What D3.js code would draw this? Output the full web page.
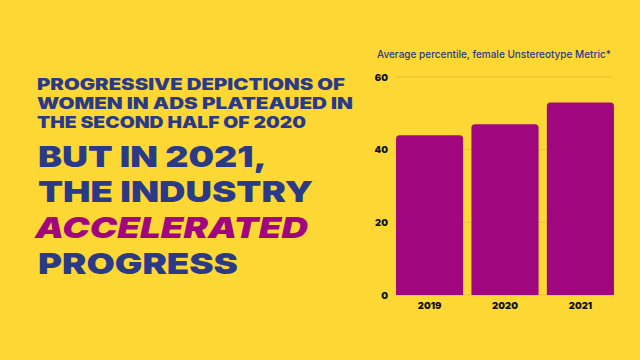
<!DOCTYPE html>
<html>
<head>
<meta charset="utf-8">
<script src="https://cdn.jsdelivr.net/npm/d3@7"></script>
<style>
  body{margin:0;background:#fdd835;}
  svg{display:block;}
</style>
</head>
<body>
<svg id="chart" width="640" height="360"></svg>
<script>
//chart data
var years = ['2019','2020','2021'];
var percentile = [44, 47, 53];
var yTicks = [0, 20, 40, 60];
var axisTitle = 'Average percentile, female Unstereotype Metric*';

//headline text
var smallLines = ['PROGRESSIVE DEPICTIONS OF','WOMEN IN ADS PLATEAUED IN','THE SECOND HALF OF 2020'];
var bigLines = [
    {text:'BUT IN 2021,', accent:false},
    {text:'THE INDUSTRY', accent:false},
    {text:'ACCELERATED', accent:true},
    {text:'PROGRESS', accent:false}
];

var navy = '#2b3a87',
    magenta = '#a0077e',
    bg = '#fdd835',
    grid = '#e9c22f';

var svg = d3.select('#chart');
svg.append('rect').attr('width',640).attr('height',360).style('fill',bg);

//left side headline
var head = svg.append('g').attr('id','headline');
var smallWidths = [308, 316, 269];
head.selectAll('text.small')
    .data(smallLines)
    .enter()
    .append('text')
    .attr('class','small')
    .attr('x',37)
    .attr('y',(d,i)=>90+i*19)
    .attr('textLength',(d,i)=>smallWidths[i])
    .attr('lengthAdjust','spacingAndGlyphs')
    .style('font-family','Inter, "Open Sans", sans-serif')
    .style('font-weight',900)
    .style('font-size','15.5px')
    .style('fill',navy)
    .text(d=>d);

var bigWidths = [229, 275, 273, 200];
head.selectAll('text.big')
    .data(bigLines)
    .enter()
    .append('text')
    .attr('class','big')
    .attr('x',(d)=>d.accent?35:38)
    .attr('y',(d,i)=>166.7+i*35.6)
    .attr('textLength',(d,i)=>bigWidths[i])
    .attr('lengthAdjust','spacingAndGlyphs')
    .style('font-family','Inter, "Open Sans", sans-serif')
    .style('font-weight',900)
    .style('font-style',(d)=>d.accent?'italic':'normal')
    .style('font-size','29px')
    .style('fill',(d)=>d.accent?magenta:navy)
    .text(d=>d.text);

//bar chart
var y = d3.scaleLinear().domain([0,60]).range([295,77]);
var x = d3.scaleBand().domain(years).range([391.5,618.5]).paddingInner(0.11).paddingOuter(0.06);

var chart = svg.append('g').attr('id','bars');

chart.append('text')
    .attr('x',377)
    .attr('y',58.3)
    .attr('textLength',234)
    .attr('lengthAdjust','spacingAndGlyphs')
    .style('font-family','Inter, "Open Sans", sans-serif')
    .style('font-weight',500)
    .style('font-size','10.5px')
    .style('fill',navy)
    .text(axisTitle);

chart.selectAll('line.grid')
    .data(yTicks)
    .enter()
    .append('line')
    .attr('class','grid')
    .attr('x1',395)
    .attr('x2',613)
    .attr('y1',d=>y(d))
    .attr('y2',d=>y(d))
    .style('stroke',grid)
    .style('stroke-width',1);

chart.selectAll('text.tick')
    .data(yTicks)
    .enter()
    .append('text')
    .attr('class','tick')
    .attr('x',388)
    .attr('y',d=>y(d)+3.5)
    .style('text-anchor','end')
    .style('font-family','Inter, "Open Sans", sans-serif')
    .style('font-weight',900)
    .style('font-size','9.5px')
    .style('fill','#111')
    .text(d=>d);

//bar with rounded top corners
var barPath = function(x0,y0,w,h,r){
    return 'M'+x0+','+(y0+h)+
           'V'+(y0+r)+
           'Q'+x0+','+y0+' '+(x0+r)+','+y0+
           'H'+(x0+w-r)+
           'Q'+(x0+w)+','+y0+' '+(x0+w)+','+(y0+r)+
           'V'+(y0+h)+'Z';
};

chart.selectAll('path.bar')
    .data(percentile)
    .enter()
    .append('path')
    .attr('class','bar')
    .attr('d',(d,i)=>barPath(x(years[i]),y(d),x.bandwidth(),y(0)-y(d),3.5))
    .style('fill',magenta);

chart.selectAll('text.year')
    .data(years)
    .enter()
    .append('text')
    .attr('class','year')
    .attr('x',d=>x(d)+x.bandwidth()/2)
    .attr('y',308.5)
    .style('text-anchor','middle')
    .style('font-family','Inter, "Open Sans", sans-serif')
    .style('font-weight',900)
    .style('font-size','9.5px')
    .style('fill','#111')
    .text(d=>d);
</script>
</body>
</html>
